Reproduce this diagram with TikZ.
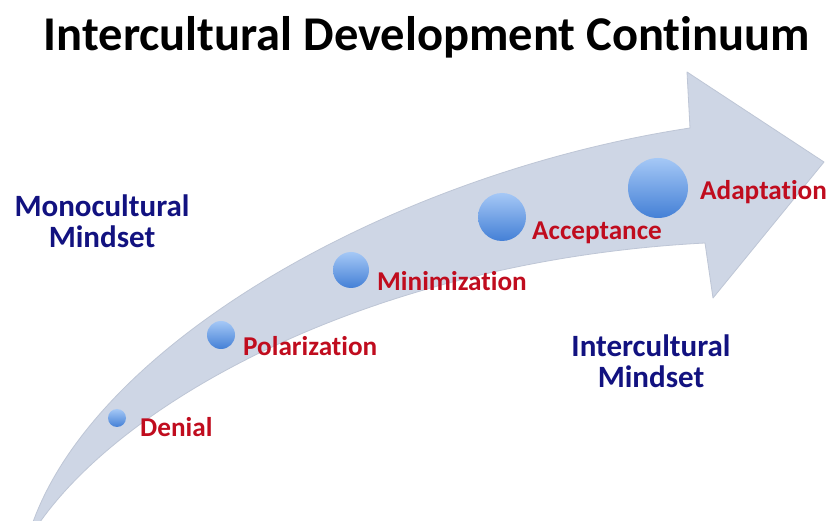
\documentclass[tikz,border=0pt]{standalone}
\usepackage{fontspec}
\setmainfont{Carlito}[Ligatures=NoCommon]
\definecolor{arrowfill}{RGB}{206,214,229}
\definecolor{arrowedge}{RGB}{190,198,214}
\definecolor{stagered}{RGB}{192,12,30}
\definecolor{mindblue}{RGB}{18,18,128}
\definecolor{balltop}{RGB}{165,200,246}
\definecolor{ballbot}{RGB}{68,128,214}
\tikzset{
  ball/.style={circle, inner sep=0pt, top color=balltop, bottom color=ballbot, draw=none},
  stage/.style={inner sep=0pt, anchor=base west, text=stagered, font=\bfseries\fontsize{27.2}{31}\selectfont},
  mind/.style={inner sep=0pt, align=center, text=mindblue, font=\bfseries\fontsize{31}{31}\selectfont},
  titlestyle/.style={inner sep=0pt, anchor=base, font=\bfseries\fontsize{48.5}{54}\selectfont}
}
\begin{document}
\begin{tikzpicture}[x=1pt,y=-1pt]
\useasboundingbox (0,0) rectangle (828,521);
\fill[white] (0,0) rectangle (828,521);
% curved arrow
\path[fill=arrowfill, draw=arrowedge, line width=0.8pt, line join=round]
  (33,522) .. controls (100,338) and (400,172) .. (690,128)
  -- (687,72) -- (824,162) -- (713,298) -- (705,243)
  .. controls (380,260) and (130,395) .. (40,522) -- cycle;
% title
\node[titlestyle] (title) at (427,51) {Intercultural Development Continuum};
% stages
\node[ball, minimum size=18pt] (b1) at (117,418) {};
\node[ball, minimum size=28pt] (b2) at (221,335) {};
\node[ball, minimum size=36pt] (b3) at (351,270) {};
\node[ball, minimum size=48pt] (b4) at (502,217) {};
\node[ball, minimum size=60pt] (b5) at (658,188) {};
\node[stage] (denial) at (140,437) {Denial};
\node[stage] (polar) at (243,356) {Polarization};
\node[stage] (minim) at (377,291) {Minimization};
\node[stage] (accept) at (532,240) {Acceptance};
\node[stage] (adapt) at (700,200) {Adaptation};
% mindsets
\node[mind] (mono) at (102,221) {Monocultural\\Mindset};
\node[mind] (inter) at (651,361) {Intercultural\\Mindset};
\end{tikzpicture}
\end{document}
